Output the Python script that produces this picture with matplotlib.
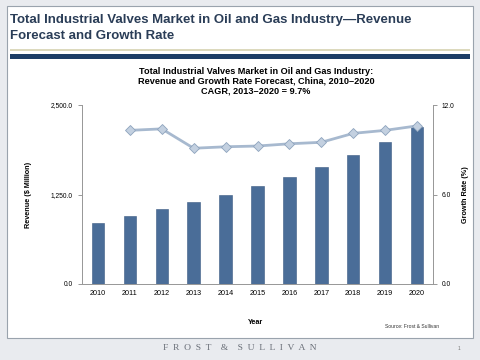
import matplotlib.pyplot as plt
from matplotlib.patches import Rectangle
from matplotlib.ticker import FuncFormatter

years = ['2010', '2011', '2012', '2013', '2014', '2015', '2016', '2017', '2018', '2019', '2020']
revenue = [848, 950, 1052, 1145, 1243, 1369, 1499, 1639, 1806, 1984, 2198]
growth_years = years[1:]
growth = [10.3, 10.4, 9.1, 9.2, 9.25, 9.4, 9.5, 10.1, 10.3, 10.6]

plt.rcParams['font.family'] = ['Liberation Sans', 'DejaVu Sans']

fig = plt.figure(figsize=(4.8, 3.6), dpi=100)
fig.patch.set_facecolor('#e9ebef')

# slide panel (behind the axes)
fig.add_artist(Rectangle((7 / 480, 1 - 338 / 360), 466 / 480, 332 / 360, transform=fig.transFigure,
                         facecolor='white', edgecolor='#9aa3ad', lw=0.8, zorder=-10))
fig.add_artist(Rectangle((10 / 480, 1 - 51 / 360), 460 / 480, 2 / 360, transform=fig.transFigure,
                         facecolor='#dcd9bd', edgecolor='none', zorder=-9))
fig.add_artist(Rectangle((10 / 480, 1 - 59 / 360), 460 / 480, 5 / 360, transform=fig.transFigure,
                         facecolor='#1c3d66', edgecolor='none', zorder=-9))

fig.text(10 / 480, 1 - 20 / 360, 'Total Industrial Valves Market in Oil and Gas Industry\u2014Revenue',
         fontsize=9.5, fontweight='bold', color='#2a3d57', va='center', ha='left')
fig.text(10 / 480, 1 - 36 / 360, 'Forecast and Growth Rate',
         fontsize=9.5, fontweight='bold', color='#2a3d57', va='center', ha='left')

fig.text(256 / 480, 1 - 81 / 360, 'Total Industrial Valves Market in Oil and Gas Industry:\n'
         'Revenue and Growth Rate Forecast, China, 2010\u20132020\nCAGR, 2013\u20132020 = 9.7%',
         fontsize=6.6, fontweight='bold', ha='center', va='center', linespacing=1.12)

ax = fig.add_axes([82 / 480, 1 - 284 / 360, 351 / 480, 179 / 360])
ax.patch.set_alpha(0)
x = range(len(years))
ax.bar(x, revenue, width=0.39, color='#4a6d98', edgecolor='#3a5a82', lw=0.4, zorder=2)
ax.set_ylim(0, 2500)
ax.set_xlim(-0.5, len(years) - 0.5)
ax.set_yticks([0, 1250, 2500])
ax.yaxis.set_major_formatter(FuncFormatter(lambda v, p: f'{v:,.1f}'))
ax.set_xticks(list(x))
ax.set_xticklabels(years)
ax.tick_params(axis='x', length=0, labelsize=5.2, pad=4)
ax.tick_params(axis='y', length=3, labelsize=4.8, color='#888888', width=0.6)
ax.spines['top'].set_visible(False)
for s in ['left', 'right', 'bottom']:
    ax.spines[s].set_color('#999999')
    ax.spines[s].set_linewidth(0.7)
ax.set_ylabel('Revenue ($ Million)', fontsize=5.2, fontweight='bold', labelpad=14)

ax2 = ax.twinx()
ax2.plot(range(1, len(years)), growth, color='#a7b9cf', lw=2, marker='D', markersize=5.5,
         markerfacecolor='#c3d0e0', markeredgecolor='#8ea3bd', markeredgewidth=0.6, zorder=3)
ax2.set_ylim(0, 12)
ax2.set_yticks([0, 6, 12])
ax2.yaxis.set_major_formatter(FuncFormatter(lambda v, p: f'{v:.1f}'))
ax2.tick_params(axis='y', length=3, labelsize=4.8, color='#888888', width=0.6)
ax2.spines['top'].set_visible(False)
for s in ['left', 'right', 'bottom']:
    ax2.spines[s].set_color('#999999')
    ax2.spines[s].set_linewidth(0.7)
ax2.set_ylabel('Growth Rate (%)', fontsize=5.2, fontweight='bold', labelpad=5)

fig.text(256 / 480, 1 - 322 / 360, 'Year', fontsize=5.2, fontweight='bold', ha='center', va='center')
fig.text(412 / 480, 1 - 327 / 360, 'Source: Frost & Sullivan', fontsize=3.6, ha='center', va='center', color='#333333')
fig.text(240 / 480, 1 - 348 / 360, 'F  R  O  S  T    &    S  U  L  L  I  V  A  N', fontsize=6.8, ha='center',
         va='center', family='Liberation Serif', color='#6a6f78')
fig.text(459 / 480, 1 - 349 / 360, '1', fontsize=3.5, ha='center', va='center', color='#777777')

fig.savefig('out.png', dpi=100, facecolor=fig.get_facecolor())
